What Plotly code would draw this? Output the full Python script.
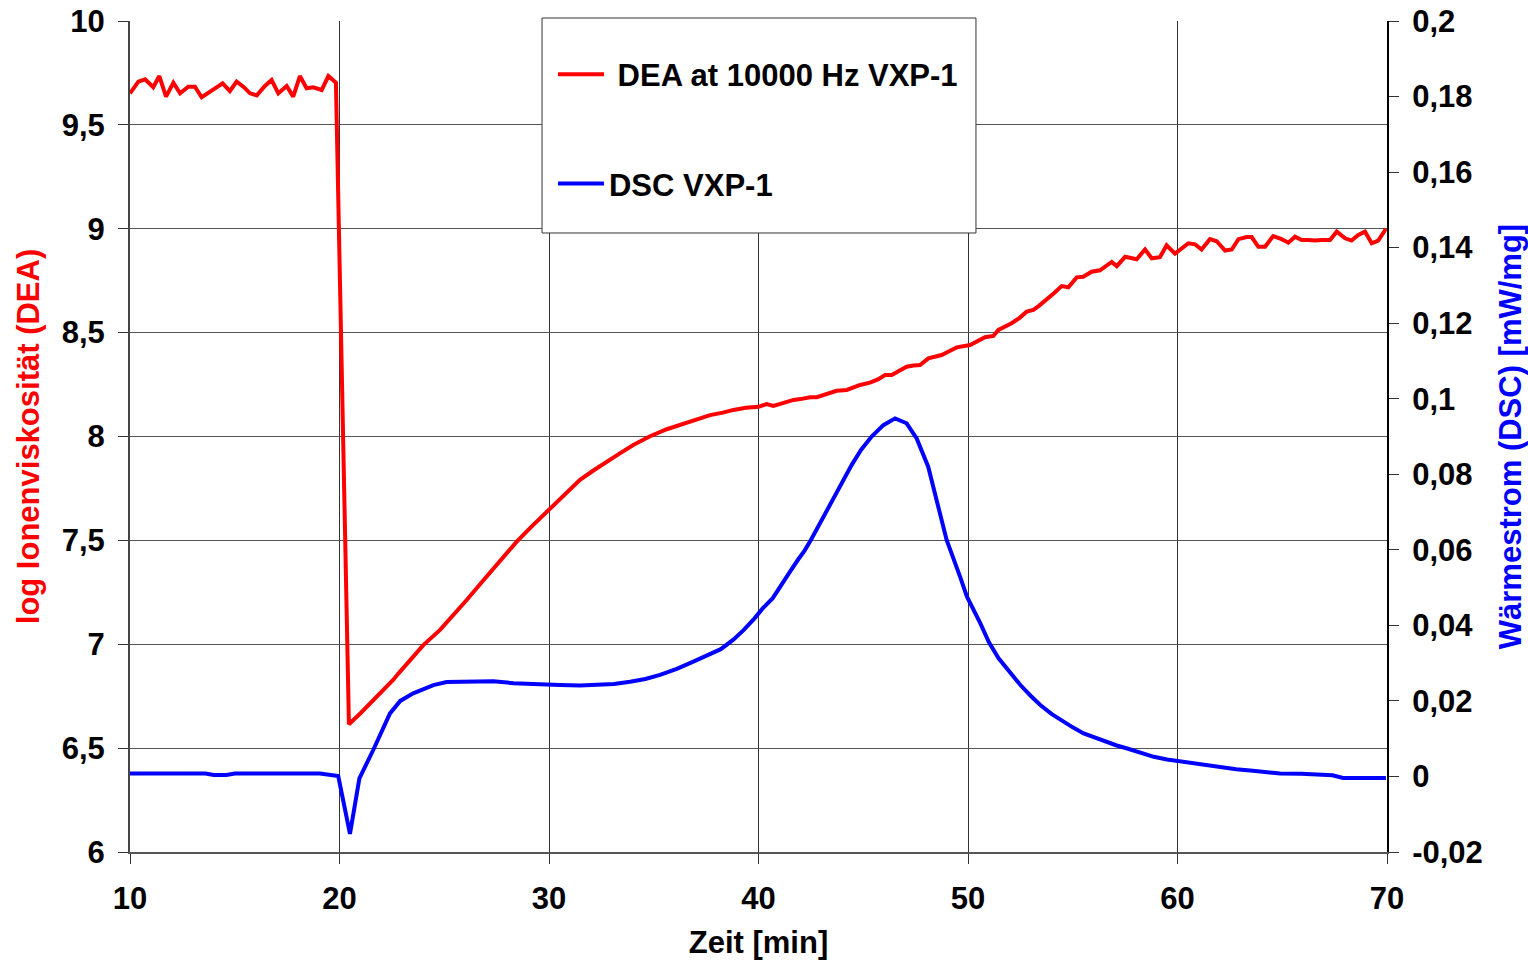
import plotly.graph_objects as go

# DEA: log ion viscosity at 10000 Hz, sample VXP-1
dea_time = [
    10.0, 10.4, 10.72, 11.11, 11.4, 11.72, 12.07, 12.39, 12.78, 13.1,
    13.42, 13.74, 14.06, 14.42, 14.77, 15.09, 15.41, 15.73, 16.05, 16.44,
    16.76, 17.08, 17.48, 17.79, 18.11, 18.43, 18.75, 19.15, 19.47, 19.83,
    20.45, 21.0, 21.4, 22.56, 22.82, 24.0, 24.8, 25.45, 26.07, 26.8,
    27.5, 28.46, 29.2, 29.89, 30.7, 31.48, 32.1, 32.75, 33.4, 34.02,
    34.8, 35.62, 36.4, 37.21, 37.69, 38.3, 38.8, 39.4, 40.0, 40.39,
    40.71, 41.2, 41.67, 42.0, 42.46, 42.78, 43.25, 43.73, 44.21, 44.85,
    45.32, 45.7, 46.04, 46.36, 46.7, 47.07, 47.4, 47.71, 48.11, 48.74,
    49.1, 49.46, 50.1, 50.5, 50.81, 51.21, 51.45, 52.08, 52.45, 52.8,
    53.12, 53.4, 53.75, 54.1, 54.47, 54.79, 55.19, 55.5, 55.9, 56.3,
    56.86, 57.1, 57.5, 58.05, 58.45, 58.77, 59.16, 59.48, 59.88, 60.52,
    60.84, 61.15, 61.55, 61.87, 62.27, 62.59, 62.91, 63.3, 63.54, 63.86,
    64.18, 64.57, 64.97, 65.29, 65.61, 65.93, 66.24, 66.56, 66.88, 67.28,
    67.6, 68.0, 68.31, 68.63, 68.95, 69.27, 69.58, 69.95,
]
dea_value = [
    9.652, 9.708, 9.719, 9.681, 9.735, 9.636, 9.703, 9.652, 9.684, 9.684,
    9.633, 9.652, 9.676, 9.700, 9.663, 9.708, 9.684, 9.652, 9.642, 9.687,
    9.716, 9.652, 9.687, 9.636, 9.735, 9.676, 9.681, 9.668, 9.735, 9.703,
    6.615, 6.668, 6.708, 6.828, 6.860, 6.996, 7.069, 7.140, 7.213, 7.300,
    7.381, 7.494, 7.570, 7.638, 7.715, 7.791, 7.835, 7.879, 7.920, 7.959,
    8.000, 8.035, 8.060, 8.085, 8.103, 8.115, 8.128, 8.138, 8.143, 8.156,
    8.147, 8.162, 8.176, 8.180, 8.189, 8.189, 8.205, 8.220, 8.224, 8.248,
    8.259, 8.275, 8.296, 8.296, 8.315, 8.336, 8.342, 8.344, 8.376, 8.392,
    8.410, 8.429, 8.440, 8.460, 8.478, 8.484, 8.513, 8.545, 8.570, 8.601,
    8.609, 8.630, 8.657, 8.690, 8.724, 8.718, 8.766, 8.769, 8.793, 8.800,
    8.840, 8.820, 8.865, 8.853, 8.900, 8.858, 8.863, 8.920, 8.880, 8.930,
    8.925, 8.900, 8.950, 8.940, 8.895, 8.900, 8.950, 8.960, 8.960, 8.913,
    8.913, 8.965, 8.950, 8.933, 8.962, 8.946, 8.946, 8.943, 8.946, 8.946,
    8.986, 8.954, 8.943, 8.970, 8.986, 8.930, 8.943, 9.000,
]

# DSC: heat flow in mW/mg, sample VXP-1
dsc_time = [
    10.0, 11.0, 12.0, 13.0, 13.6, 14.0, 14.6, 15.0, 16.0, 17.0,
    18.0, 19.07, 19.94, 20.5, 20.95, 21.61, 22.41, 22.9, 23.52, 24.48,
    25.11, 26.39, 27.34, 28.3, 29.25, 30.53, 31.48, 32.11, 33.1, 33.87,
    34.6, 35.3, 36.1, 36.89, 37.6, 38.2, 38.8, 39.3, 39.8, 40.2,
    40.68, 41.1, 41.56, 41.9, 42.2, 42.5, 43.14, 43.89, 44.45, 44.9,
    45.4, 45.96, 46.52, 47.07, 47.55, 48.1, 48.55, 48.98, 49.62, 49.95,
    50.59, 51.0, 51.46, 52.0, 52.5, 53.0, 53.45, 54.0, 54.56, 55.0,
    55.52, 56.0, 56.6, 57.1, 57.6, 58.2, 58.87, 59.5, 60.12, 60.6,
    61.3, 62.03, 62.8, 63.6, 64.3, 64.9, 65.9, 66.96, 67.4, 67.9,
    69.0, 69.95,
]
dsc_value = [
    0.0008, 0.0008, 0.0008, 0.0008, 0.0008, 0.0004, 0.0004, 0.0008, 0.0008, 0.0008,
    0.0008, 0.0008, 0.0001, -0.0152, -0.0005, 0.0070, 0.0167, 0.0200, 0.0220, 0.0242,
    0.0250, 0.0252, 0.0252, 0.0247, 0.0244, 0.0242, 0.0241, 0.0243, 0.0245, 0.0251,
    0.0258, 0.0269, 0.0285, 0.0304, 0.0322, 0.0337, 0.0362, 0.0388, 0.0418, 0.0445,
    0.0472, 0.0510, 0.0547, 0.0575, 0.0598, 0.0626, 0.0692, 0.0767, 0.0825, 0.0865,
    0.0900, 0.0930, 0.0948, 0.0935, 0.0895, 0.0820, 0.0723, 0.0626, 0.0529, 0.0476,
    0.0405, 0.0355, 0.0313, 0.0275, 0.0242, 0.0213, 0.0189, 0.0165, 0.0145, 0.0130,
    0.0114, 0.0104, 0.0092, 0.0082, 0.0074, 0.0063, 0.0052, 0.0045, 0.0040, 0.0035,
    0.0030, 0.0024, 0.0019, 0.0015, 0.0011, 0.0008, 0.0007, 0.0006, 0.0003, -0.0004,
    -0.0004, -0.0004,
]

x_ticks = [10, 20, 30, 40, 50, 60, 70]
y1_ticks = [6, 6.5, 7, 7.5, 8, 8.5, 9, 9.5, 10]
y1_labels = ["6", "6,5", "7", "7,5", "8", "8,5", "9", "9,5", "10"]
y2_ticks = [-0.02, 0, 0.02, 0.04, 0.06, 0.08, 0.1, 0.12, 0.14, 0.16, 0.18, 0.2]
y2_labels = ["-0,02", "0", "0,02", "0,04", "0,06", "0,08", "0,1", "0,12",
             "0,14", "0,16", "0,18", "0,2"]

FONT = "Liberation Sans, Arial, sans-serif"
SIZE = 31

fig = go.Figure()
fig.add_trace(go.Scatter(
    x=dea_time, y=dea_value, mode="lines", name="\u00a0DEA at 10000 Hz VXP-1",
    line=dict(color="#ff0000", width=4), legendgroup="a", yaxis="y",
))
fig.add_trace(go.Scatter(
    x=dsc_time, y=dsc_value, mode="lines", name="DSC VXP-1",
    line=dict(color="#0000ff", width=4), legendgroup="b", yaxis="y2",
))

# white legend frame
fig.add_shape(type="rect", xref="paper", yref="paper",
              x0=0.3278, x1=0.6730, y0=0.7449, y1=1.0036,
              line=dict(color="#333333", width=1), fillcolor="white", layer="above")

fig.update_layout(
    width=1528, height=960,
    margin=dict(l=130, r=141, t=21, b=108),
    paper_bgcolor="white", plot_bgcolor="white",
    font=dict(family=FONT, size=SIZE, color="black", weight="bold"),
    showlegend=True,
    legend=dict(
        x=0.3365, y=0.968, xanchor="left", yanchor="top",
        bgcolor="rgba(0,0,0,0)", borderwidth=0,
        font=dict(family=FONT, size=SIZE, color="black", weight="bold"),
        tracegroupgap=66, itemwidth=46, traceorder="grouped",
    ),
    xaxis=dict(
        range=[10, 70], tickvals=x_ticks, ticktext=[str(t) for t in x_ticks],
        showgrid=True, gridcolor="#333333", gridwidth=1,
        showline=True, linecolor="#555555", linewidth=2,
        ticks="outside", ticklen=10, tickcolor="#333333", tickwidth=1,
        ticklabelstandoff=8, automargin=False,
        zeroline=False,
        title=dict(text="Zeit [min]", standoff=18,
                   font=dict(family=FONT, size=SIZE, color="black", weight="bold")),
    ),
    yaxis=dict(
        range=[6, 10], tickvals=y1_ticks, ticktext=y1_labels,
        showgrid=True, gridcolor="#555555", gridwidth=1,
        showline=True, linecolor="#444444", linewidth=2,
        ticks="outside", ticklen=10, tickcolor="#333333", tickwidth=1,
        ticklabelstandoff=7, automargin=False,
        zeroline=False,
        title=dict(text="log Ionenviskosität (DEA)", standoff=13,
                   font=dict(family=FONT, size=SIZE, color="#ff0000", weight="bold")),
    ),
    yaxis2=dict(
        range=[-0.02, 0.2], tickvals=y2_ticks, ticktext=y2_labels,
        overlaying="y", side="right", showgrid=False,
        showline=True, linecolor="black", linewidth=2,
        ticks="outside", ticklen=10, tickcolor="#333333", tickwidth=1,
        ticklabelstandoff=7, automargin=False,
        zeroline=False,
        title=dict(text="Wärmestrom (DSC) [mW/mg]", standoff=20,
                   font=dict(family=FONT, size=SIZE, color="#0000ff", weight="bold")),
    ),
)

fig.write_html("out.html")
